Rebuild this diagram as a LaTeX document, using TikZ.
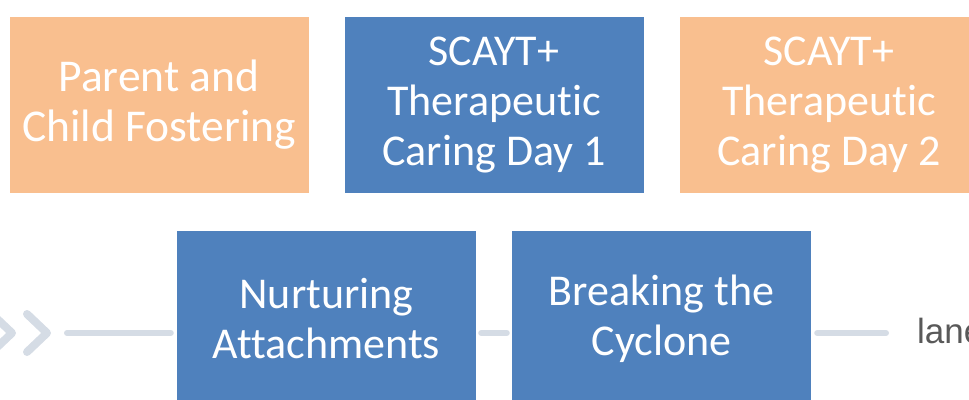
\documentclass[tikz,border=0pt]{standalone}
\usepackage{fontspec}
\setmainfont{Carlito}[Ligatures=NoCommon]
\newfontfamily\lanefont{Liberation Sans}
\usetikzlibrary{positioning}
\definecolor{peach}{HTML}{F9BF8F}
\definecolor{steel}{HTML}{4F81BD}
\definecolor{rail}{HTML}{D5DCE5}
\definecolor{lanegrey}{HTML}{595959}
\tikzset{
    stage/.style={rectangle, minimum width=299pt, minimum height=176pt, inner sep=0pt,
      text=white, align=center, font=\fontsize{44}{50}\selectfont},
    warm/.style={stage, fill=peach},
    cool/.style={stage, fill=steel},
    link/.style={rail, line width=6pt, line cap=round},
    chevron/.style={rail, line width=8pt, line cap=round, line join=round},
  }
\begin{document}
\begin{tikzpicture}[x=1pt,y=-1pt]
  \useasboundingbox (0,0) rectangle (969,399);
  \clip (0,0) rectangle (969,399);
  %top row
  \node[warm, font=\fontsize{45.5}{50}\selectfont] (pcf) at (159,105) {Parent and\\Child Fostering};
  \node[cool] (day1) at (494,105) {SCAYT+\\Therapeutic\\Caring Day 1};
  \node[warm] (day2) at (829,105) {SCAYT+\\Therapeutic\\Caring Day 2};
  %bottom row
  \node[cool] (nurt) at (326.5,319) {Nurturing\\Attachments};
  \node[cool] (cyc) at (661.5,319) {Breaking the\\Cyclone};
  \node[anchor=base west, inner sep=0pt, text=lanegrey, font=\lanefont\fontsize{35}{40}\selectfont]
    (lane) at (917,343) {lane};
  %rail
  \coordinate (in) at (67,333);
  \coordinate (out) at (886,333);
  \draw[link, shorten >=6pt] (in) -- (in -| nurt.west);
  \draw[link, shorten <=5pt, shorten >=5pt] (nurt.east |- in) -- (cyc.west |- in);
  \draw[link, shorten <=6pt] (cyc.east |- in) -- (out);
  %chevrons
  \foreach \dx in {-35,0}
    \draw[chevron] (27+\dx,314) -- (47+\dx,333) -- (27+\dx,352);
\end{tikzpicture}
\end{document}
